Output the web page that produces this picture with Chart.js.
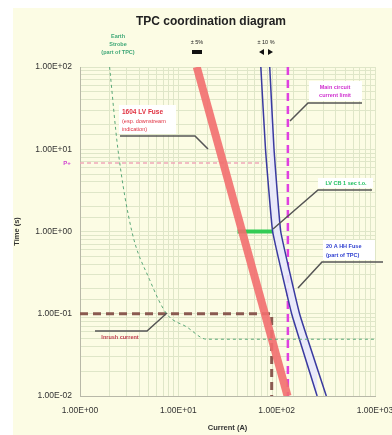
<!DOCTYPE html>
<html>
<head>
<meta charset="utf-8">
<script src="https://cdn.jsdelivr.net/npm/chart.js@4.4.1/dist/chart.umd.min.js"></script>
<style>
  html, body { margin: 0; padding: 0; background: #fff; }
</style>
</head>
<body>
<canvas id="myChart" width="392" height="435"></canvas>
<script>
// curves (current in A, time in s)
const earthI = [2.0, 2.43, 3.37, 5.1, 7.6, 12.2, 19.5, 1000];
const earthT = [100, 10, 1.0, 0.26, 0.10, 0.069, 0.049, 0.049];

const lvFuseI = [15.4, 129];
const lvFuseT = [100, 0.01];

const hvMinI = [69, 77, 91, 142, 258];
const hvMinT = [100, 10, 1, 0.1, 0.01];
const hvMaxI = [85, 94, 110, 171, 320];
const hvMaxT = [100, 10, 1, 0.1, 0.01];

const limitI = [130, 130];
const limitT = [100, 0.01];

const cbI = [40, 95];
const cbT = [1, 1];

const inrushI = [1, 89, 89];
const inrushT = [0.1, 0.1, 0.01];

const ptI = [1, 72];
const ptT = [6.8, 6.8];

const FONT = "'Liberation Sans', Arial, sans-serif";

function pts(xs, ys) {
    return xs.map((x, i) => ({ x: x, y: ys[i] }));
}

function fmtExp(v) {
    const e = Math.round(Math.log10(v));
    return "1.00E" + (e < 0 ? "-" : "+") + String(Math.abs(e)).padStart(2, "0");
}

function isDecade(v) {
    const l = Math.log10(v);
    return Math.abs(l - Math.round(l)) < 1e-9;
}

function label(c, lines, x, y, color, opts) {
    opts = opts || {};
    const size = opts.size || 6;
    const lh = opts.lh || 8;
    c.font = (opts.weight || "bold") + " " + size + "px " + FONT;
    c.textAlign = opts.align || "center";
    c.textBaseline = "middle";
    if (opts.box) {
        c.fillStyle = "#ffffff";
        c.fillRect(opts.box[0], opts.box[1], opts.box[2], opts.box[3]);
    }
    c.fillStyle = color;
    lines.forEach((t, i) => c.fillText(t, x, y + i * lh));
}

function callout(c, path) {
    c.strokeStyle = "#555555";
    c.lineWidth = 1.5;
    c.beginPath();
    c.moveTo(path[0][0], path[0][1]);
    for (let i = 1; i < path.length; i++) c.lineTo(path[i][0], path[i][1]);
    c.stroke();
}

const decor = {
    id: "decor",
    beforeDraw(chart) {
        const c = chart.ctx;
        c.save();
        c.fillStyle = "#ffffff";
        c.fillRect(0, 0, chart.width, chart.height);
        c.fillStyle = "#fcfce4";
        c.fillRect(13, 8, chart.width - 13, chart.height - 8);
        c.restore();
    },
    afterDatasetsDraw(chart) {
        const c = chart.ctx;
        c.save();
        // callouts
        callout(c, [[120, 136], [195, 136], [208, 149]]);
        callout(c, [[362, 103], [308, 103], [290, 121]]);
        callout(c, [[372, 190], [318, 190], [273, 229]]);
        callout(c, [[383, 262], [322, 262], [298, 288]]);
        callout(c, [[95, 331], [147, 331], [167, 313]]);

        label(c, ["1604 LV Fuse"], 122, 112, "#e03040", { align: "left", size: 6.5, box: [119, 105, 57, 29] });
        label(c, ["(esp. downstream", "indication)"], 122, 121, "#e03040", { align: "left", size: 5.5, weight: "normal" });
        label(c, ["Main circuit", "current limit"], 335, 87, "#d030d0", { size: 5.5, box: [309, 81, 53, 20] });
        label(c, ["LV CB 1 sec t.o."], 346, 183, "#20c060", { size: 5.5, box: [318, 178, 55, 10] });
        label(c, ["20 A HH Fuse", "(part of TPC)"], 326, 246, "#3040d0", { align: "left", size: 5.5, lh: 9, box: [323, 240, 52, 20] });
        label(c, ["Inrush current"], 120, 337, "#c04050", { size: 5.5 });
        label(c, ["P+"], 67, 163, "#d040d0", { size: 6 });
        c.restore();
    },
    afterDraw(chart) {
        const c = chart.ctx;
        c.save();
        c.font = "bold 12px " + FONT;
        c.textAlign = "center";
        c.textBaseline = "middle";
        c.fillStyle = "#222222";
        c.fillText("TPC coordination diagram", 211, 22);

        label(c, ["Earth", "Strobe", "(part of TPC)"], 118, 36, "#40a878", { size: 5.5 });
        label(c, ["± 5%"], 197, 42, "#222222", { size: 5.5, weight: "normal" });
        label(c, ["± 10 %"], 266, 42, "#222222", { size: 5.5, weight: "normal" });

        // tolerance markers
        c.fillStyle = "#111111";
        c.fillRect(192, 50, 10, 4);
        c.beginPath();
        c.moveTo(259, 52); c.lineTo(264, 49); c.lineTo(264, 55); c.closePath();
        c.moveTo(273, 52); c.lineTo(268, 49); c.lineTo(268, 55); c.closePath();
        c.fill();
        c.restore();
    }
};

const gridColor = "#dfe6c8";

const config = {
    type: "line",
    data: {
        datasets: [
            {
                label: "Earth Strobe",
                data: pts(earthI, earthT),
                borderColor: "#5aa878",
                borderWidth: 1,
                borderDash: [3, 3],
                cubicInterpolationMode: "monotone",
                pointRadius: 0,
            },
            {
                label: "1604 LV Fuse",
                data: pts(lvFuseI, lvFuseT),
                borderColor: "rgba(242, 110, 110, 0.9)",
                borderWidth: 8,
                pointRadius: 0,
            },
            {
                label: "HH Fuse min",
                data: pts(hvMinI, hvMinT),
                borderColor: "#3a3aa0",
                borderWidth: 1.5,
                tension: 0.1,
                pointRadius: 0,
            },
            {
                label: "HH Fuse max",
                data: pts(hvMaxI, hvMaxT),
                borderColor: "#3a3aa0",
                borderWidth: 1.5,
                tension: 0.1,
                pointRadius: 0,
                fill: "-1",
                backgroundColor: "rgba(232, 232, 252, 0.9)",
            },
            {
                label: "Main circuit current limit",
                data: pts(limitI, limitT),
                borderColor: "#e040e0",
                borderWidth: 2.5,
                borderDash: [8, 5],
                pointRadius: 0,
            },
            {
                label: "LV CB",
                data: pts(cbI, cbT),
                borderColor: "#33cc55",
                borderWidth: 4,
                pointRadius: 0,
            },
            {
                label: "Inrush current",
                data: pts(inrushI, inrushT),
                borderColor: "#8a5a50",
                borderWidth: 3,
                borderDash: [8, 5],
                pointRadius: 0,
            },
            {
                label: "P+",
                data: pts(ptI, ptT),
                borderColor: "#f0a8b8",
                borderWidth: 1.5,
                borderDash: [4, 3],
                pointRadius: 0,
            },
        ],
    },
    options: {
        responsive: false,
        devicePixelRatio: 1,
        animation: false,
        layout: { padding: { left: 0, right: 17, top: 67, bottom: 0 } },
        plugins: {
            legend: { display: false },
            title: { display: false },
            tooltip: { enabled: false },
        },
        scales: {
            x: {
                type: "logarithmic",
                min: 1,
                max: 1000,
                afterFit: s => { s.height = 39; s.paddingLeft = 0; s.paddingRight = 0; },
                grid: { color: gridColor, drawTicks: false },
                border: { color: "#b8b8a8" },
                ticks: {
                    autoSkip: false,
                    maxRotation: 0,
                    padding: 10,
                    color: "#333333",
                    font: { family: FONT, size: 8.5 },
                    callback: v => isDecade(v) ? fmtExp(v) : "",
                },
                title: {
                    display: true,
                    text: "Current (A)",
                    color: "#333333",
                    font: { family: FONT, size: 7.5, weight: "bold" },
                    padding: { top: 0, bottom: 3 },
                },
            },
            y: {
                type: "logarithmic",
                min: 0.01,
                max: 100,
                afterFit: s => { s.width = 80; s.paddingTop = 0; s.paddingBottom = 0; },
                grid: { color: gridColor, drawTicks: false },
                border: { color: "#b8b8a8" },
                ticks: {
                    autoSkip: false,
                    padding: 8,
                    color: "#333333",
                    font: { family: FONT, size: 8.5 },
                    callback: v => isDecade(v) ? fmtExp(v) : "",
                },
                title: {
                    display: true,
                    text: "Time (s)",
                    color: "#333333",
                    font: { family: FONT, size: 7.5, weight: "bold" },
                    padding: { top: 12, bottom: 0 },
                },
            },
        },
    },
    plugins: [decor],
};

const ctx = document.getElementById("myChart").getContext("2d");
const myChart = new Chart(ctx, config);
</script>
</body>
</html>
